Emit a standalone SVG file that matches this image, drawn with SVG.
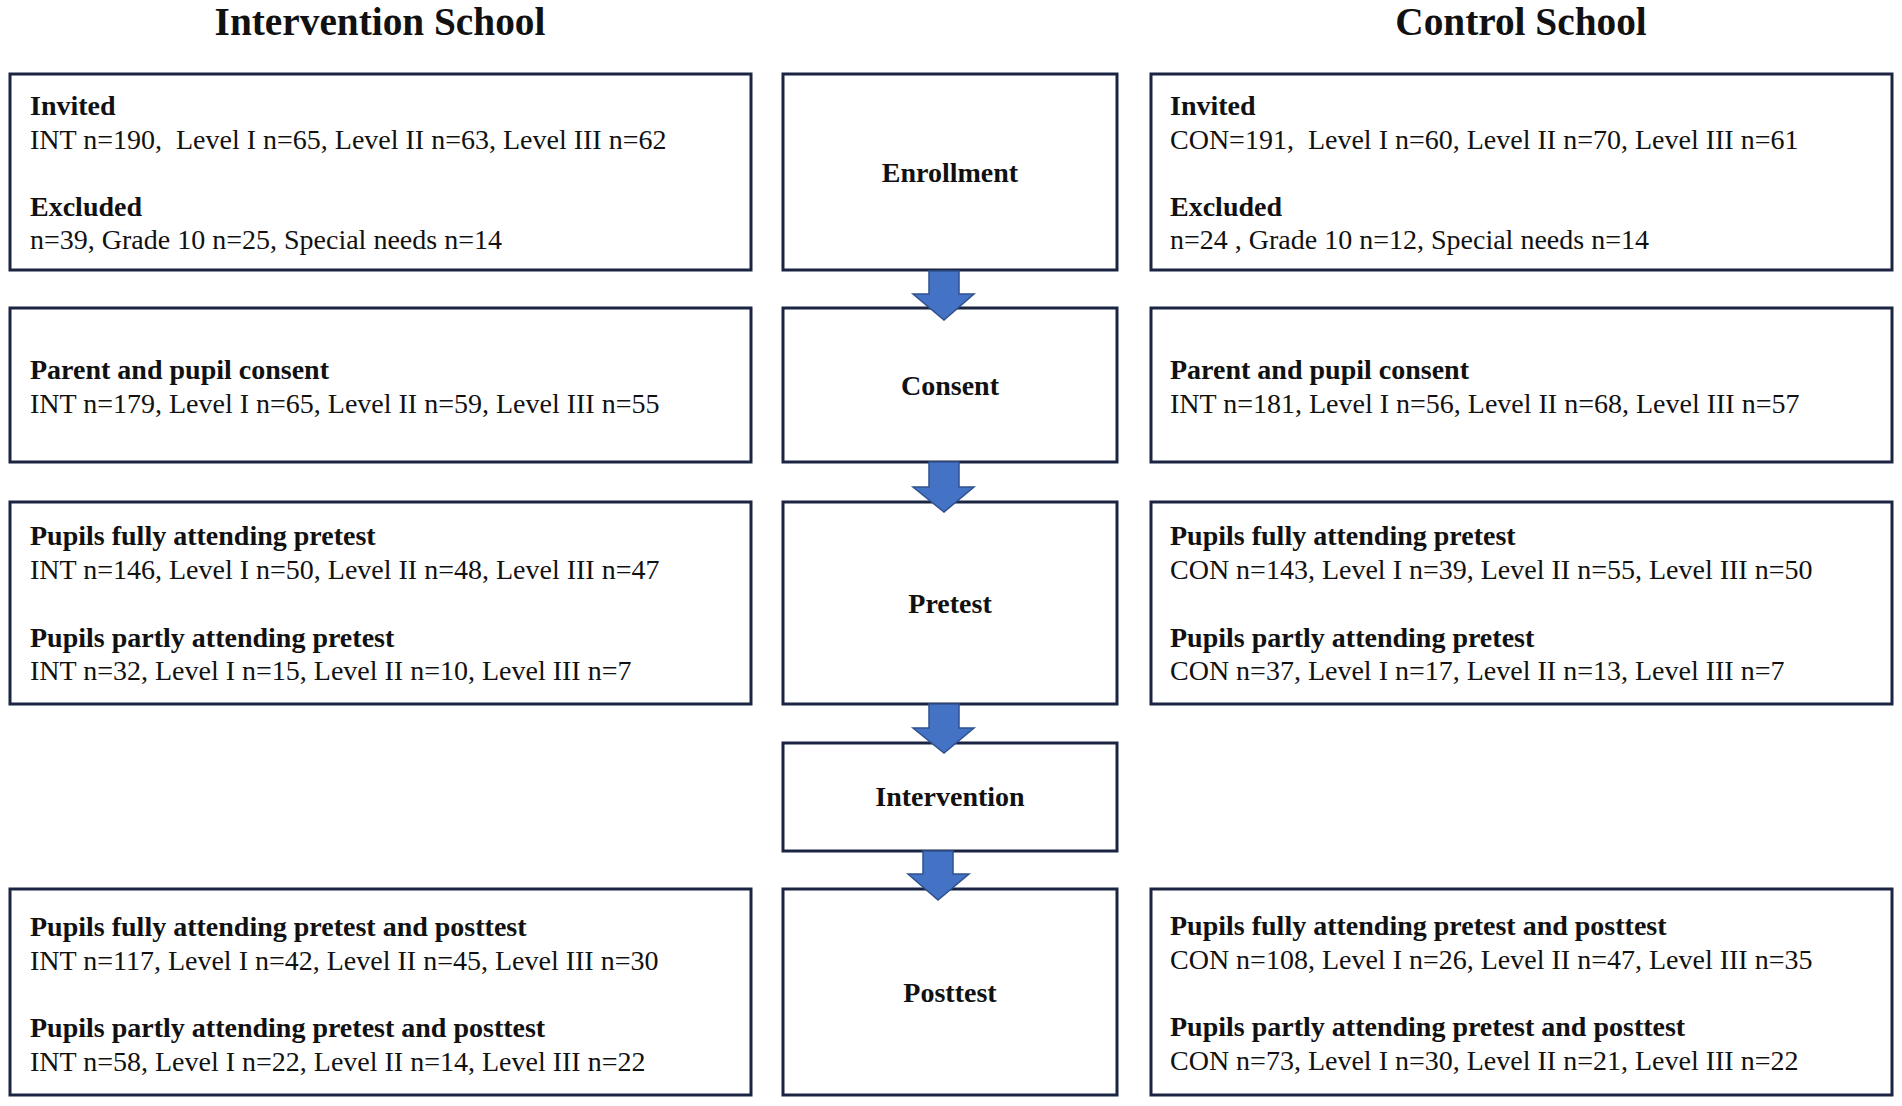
<svg xmlns="http://www.w3.org/2000/svg" width="1902" height="1106" viewBox="0 0 1902 1106">
<style>
.bg{fill:#ffffff}
.box{fill:#ffffff;stroke:#1b2442;stroke-width:3}
.t{font-family:"Liberation Serif","Times New Roman",serif;font-size:28px;fill:#111111;white-space:pre}
.b{font-weight:bold}
.c{text-anchor:middle}
.title{font-family:"Liberation Serif","Times New Roman",serif;font-size:39.3px;font-weight:bold;fill:#111111;text-anchor:middle}
.arrow{fill:#4472c4;stroke:#2f528f;stroke-width:1.5;stroke-linejoin:miter}
</style>
<rect class="bg" x="0" y="0" width="1902" height="1106"/>
<g id="titles">
<text class="title" x="380" y="35">Intervention School</text>
<text class="title" x="1521" y="35">Control School</text>
</g>
<g id="int-enrollment">
<rect class="box" x="10" y="74" width="741" height="196"/>
<text class="t b" x="30" y="115">Invited</text>
<text class="t" x="30" y="149">INT n=190,  Level I n=65, Level II n=63, Level III n=62</text>
<text class="t b" x="30" y="216">Excluded</text>
<text class="t" x="30" y="249">n=39, Grade 10 n=25, Special needs n=14</text>
</g>
<g id="enrollment">
<rect class="box" x="783" y="74" width="334" height="196"/>
<text class="t b c" x="950" y="182">Enrollment</text>
</g>
<g id="con-enrollment">
<rect class="box" x="1151" y="74" width="741" height="196"/>
<text class="t b" x="1170" y="115">Invited</text>
<text class="t" x="1170" y="149">CON=191,  Level I n=60, Level II n=70, Level III n=61</text>
<text class="t b" x="1170" y="216">Excluded</text>
<text class="t" x="1170" y="249">n=24 , Grade 10 n=12, Special needs n=14</text>
</g>
<g id="int-consent">
<rect class="box" x="10" y="308" width="741" height="154"/>
<text class="t b" x="30" y="379">Parent and pupil consent</text>
<text class="t" x="30" y="413">INT n=179, Level I n=65, Level II n=59, Level III n=55</text>
</g>
<g id="consent">
<rect class="box" x="783" y="308" width="334" height="154"/>
<text class="t b c" x="950" y="395">Consent</text>
</g>
<g id="con-consent">
<rect class="box" x="1151" y="308" width="741" height="154"/>
<text class="t b" x="1170" y="379">Parent and pupil consent</text>
<text class="t" x="1170" y="413">INT n=181, Level I n=56, Level II n=68, Level III n=57</text>
</g>
<g id="int-pretest">
<rect class="box" x="10" y="502" width="741" height="202"/>
<text class="t b" x="30" y="545">Pupils fully attending pretest</text>
<text class="t" x="30" y="579">INT n=146, Level I n=50, Level II n=48, Level III n=47</text>
<text class="t b" x="30" y="647">Pupils partly attending pretest</text>
<text class="t" x="30" y="680">INT n=32, Level I n=15, Level II n=10, Level III n=7</text>
</g>
<g id="pretest">
<rect class="box" x="783" y="502" width="334" height="202"/>
<text class="t b c" x="950" y="613">Pretest</text>
</g>
<g id="con-pretest">
<rect class="box" x="1151" y="502" width="741" height="202"/>
<text class="t b" x="1170" y="545">Pupils fully attending pretest</text>
<text class="t" x="1170" y="579">CON n=143, Level I n=39, Level II n=55, Level III n=50</text>
<text class="t b" x="1170" y="647">Pupils partly attending pretest</text>
<text class="t" x="1170" y="680">CON n=37, Level I n=17, Level II n=13, Level III n=7</text>
</g>
<g id="intervention">
<rect class="box" x="783" y="743" width="334" height="108"/>
<text class="t b c" x="950" y="806">Intervention</text>
</g>
<g id="int-posttest">
<rect class="box" x="10" y="889" width="741" height="206"/>
<text class="t b" x="30" y="936">Pupils fully attending pretest and posttest</text>
<text class="t" x="30" y="970">INT n=117, Level I n=42, Level II n=45, Level III n=30</text>
<text class="t b" x="30" y="1037">Pupils partly attending pretest and posttest</text>
<text class="t" x="30" y="1071">INT n=58, Level I n=22, Level II n=14, Level III n=22</text>
</g>
<g id="posttest">
<rect class="box" x="783" y="889" width="334" height="206"/>
<text class="t b c" x="950" y="1002">Posttest</text>
</g>
<g id="con-posttest">
<rect class="box" x="1151" y="889" width="741" height="206"/>
<text class="t b" x="1170" y="935">Pupils fully attending pretest and posttest</text>
<text class="t" x="1170" y="969">CON n=108, Level I n=26, Level II n=47, Level III n=35</text>
<text class="t b" x="1170" y="1036">Pupils partly attending pretest and posttest</text>
<text class="t" x="1170" y="1070">CON n=73, Level I n=30, Level II n=21, Level III n=22</text>
</g>
<g id="connectors">
<polygon class="arrow" points="929,271 959,271 959,294 974,294 944,320 913,294 929,294"/>
<polygon class="arrow" points="929,462 959,462 959,487 974,487 944,512 913,487 929,487"/>
<polygon class="arrow" points="929,704 959,704 959,728 974,728 944,753 913,728 929,728"/>
<polygon class="arrow" points="923,851 953,851 953,874 969,874 938,900 908,874 923,874"/>
</g>
</svg>
